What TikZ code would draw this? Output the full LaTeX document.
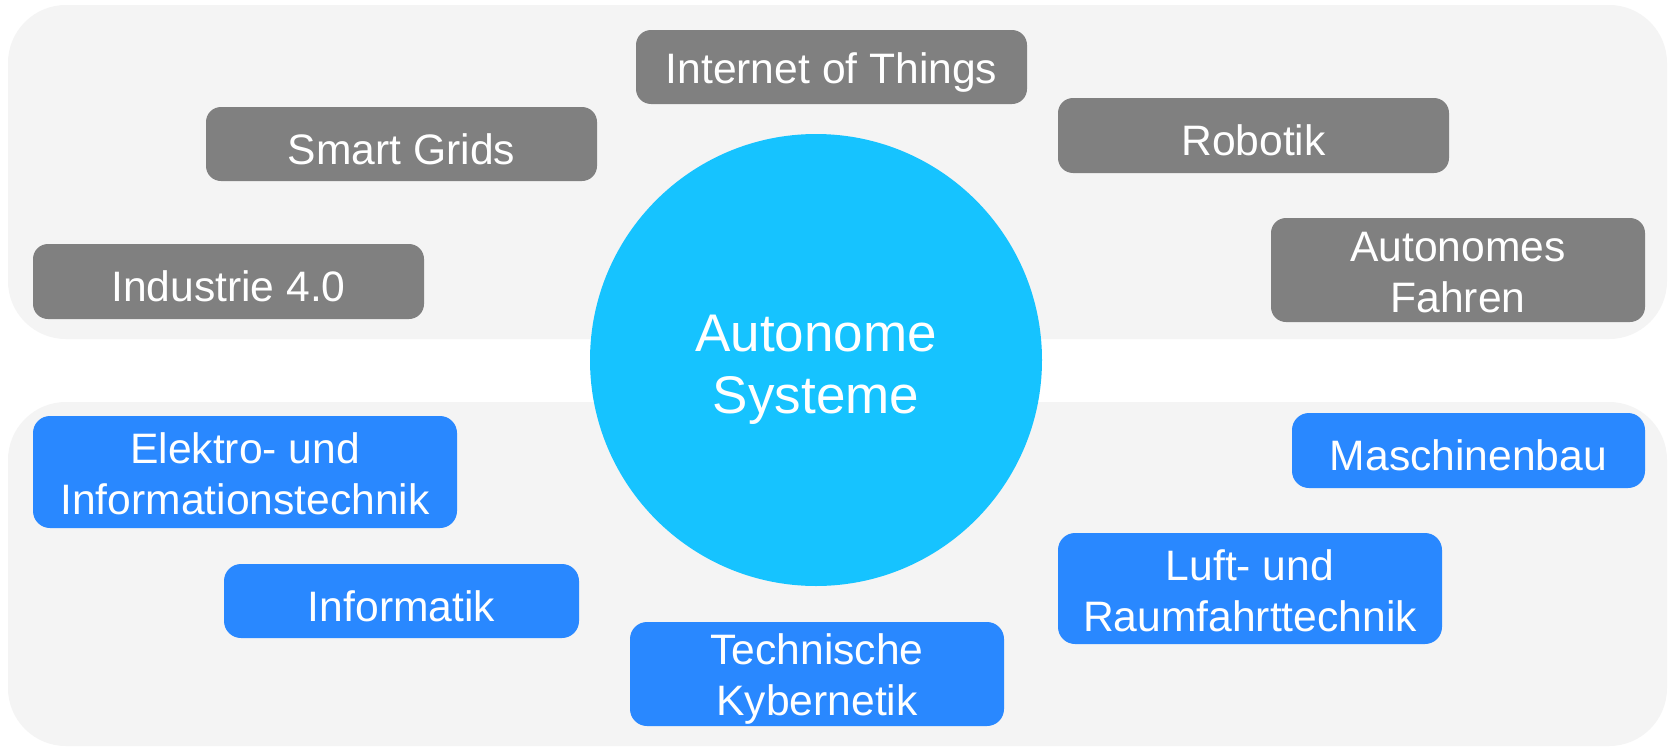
\documentclass[tikz,border=0pt]{standalone}
\usepackage{fontspec}
\setmainfont{Liberation Sans}
\definecolor{panel}{HTML}{F4F4F4}
\definecolor{grayb}{HTML}{808080}
\definecolor{blueb}{HTML}{2988FF}
\definecolor{circ}{HTML}{16C3FF}
\tikzset{
  boxfont/.style={font=\fontsize{42.6}{51}\selectfont},
  graybox/.style={fill=grayb, rounded corners=15pt, inner sep=0pt},
  bluebox/.style={fill=blueb, rounded corners=17pt, inner sep=0pt},
  boxtext/.style={text=white, align=center, inner sep=0pt, boxfont},
  panelbox/.style={fill=panel, rounded corners=58pt},
}
\newcommand{\bx}[8]{% style, name, x1, y1, x2, y2, text, shift
  \node[#1, minimum width={(#5-#3)*1pt}, minimum height={(#6-#4)*1pt}] (#2) at ({(#3+#5)/2},{(#4+#6)/2}) {};
  \node[boxtext, yshift=-#8pt] (#2-t) at (#2.center) {#7};
}
\begin{document}
\begin{tikzpicture}[x=1pt,y=-1pt]
\useasboundingbox (0,0) rectangle (1671,747);
\fill[white] (0,0) rectangle (1671,747);
\draw[panelbox, draw=none] (8,5) rectangle (1667,339);
\draw[panelbox, draw=none] (8,402) rectangle (1667,746);
\node[circle, fill=circ, minimum size=452pt, inner sep=0pt] (center) at (816,360) {};
\node[text=white, align=center, inner sep=0pt, yshift=-10pt,
  font=\fontsize{53}{62}\selectfont] (center-t) at (center.center) {Autonome\\Systeme};
\bx{graybox}{iot}{636}{30}{1027}{104}{Internet of Things}{5}
\bx{graybox}{smart}{206}{107}{597}{181}{Smart Grids}{5}
\bx{graybox}{robo}{1058}{98}{1449}{173}{Robotik}{5}
\bx{graybox}{ind}{33}{244}{424}{319}{Industrie 4.0}{5}
\bx{graybox}{auto}{1271}{218}{1645}{322}{Autonomes\\Fahren}{3}
\bx{bluebox}{elek}{33}{416}{457}{528}{Elektro- und\\Informationstechnik}{2}
\bx{bluebox}{inf}{224}{564}{579}{638}{Informatik}{5}
\bx{bluebox}{kyb}{630}{622}{1004}{726}{Technische\\Kybernetik}{5}
\bx{bluebox}{masch}{1292}{413}{1645}{488}{Maschinenbau}{5}
\bx{bluebox}{luft}{1058}{533}{1442}{644}{Luft- und\\Raumfahrttechnik}{2}
\end{tikzpicture}
\end{document}
